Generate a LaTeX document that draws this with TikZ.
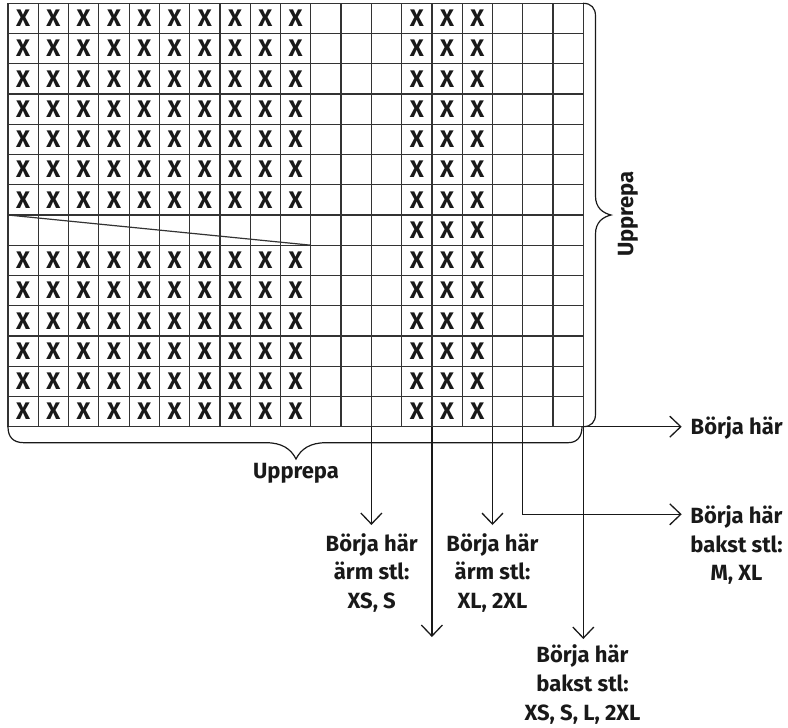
\documentclass[tikz,border=0pt]{standalone}
\usepackage{fontspec}
\setmainfont{Fira Sans}
\usetikzlibrary{arrows.meta}
\begin{document}
\begin{tikzpicture}[x=1pt,y=-1pt,
  gridline/.style={line width=1.2pt, black!80},
  bracestyle/.style={line width=1.2pt, black!90, line cap=round},
  conn/.style={line width=1.3pt, black!90, -{Straight Barb[length=11pt,width=21pt]}},
  xmark/.style={font=\bfseries\fontsize{24}{24}\selectfont, inner sep=0pt, text=black!90},
  lbl/.style={font=\bfseries\fontsize{22}{28.7}\selectfont, inner sep=0pt, align=center, text=black!90}]
\useasboundingbox (0,0) rectangle (788,728);
% grid lines
\foreach \r in {0,...,14} {
  \draw[gridline] (8,{3.3+30.24*\r}) -- (583.3,{3.3+30.24*\r});
}
\foreach \c in {0,...,19} {
  \draw[gridline] ({8+30.28*\c},3.3) -- ({8+30.28*\c},426.7);
}
% diagonal in row 8
\draw[gridline] (8,215.0) -- (310.8,245.2);
% X marks
\foreach \r in {0,...,13} {
  \foreach \c in {0,...,9} {
    \ifnum\r=7\relax\else
      \node[xmark] (x-\r-\c) at ({8+30.28*(\c+0.5)},{3.3+30.24*(\r+0.5)}) {X};
    \fi
  }
  \foreach \c in {13,14,15} {
    \node[xmark] (x-\r-\c) at ({8+30.28*(\c+0.5)},{3.3+30.24*(\r+0.5)}) {X};
  }
}
% right brace
\draw[bracestyle] (583.3,3.3) .. controls (591,3.3) and (595.5,8) .. (595.5,16)
  -- (595.5,196) .. controls (595.5,208) and (603,213) .. (611,215)
  .. controls (603,217) and (595.5,222) .. (595.5,234)
  -- (595.5,414) .. controls (595.5,422) and (591,426.7) .. (583.3,426.7);
\node[lbl, rotate=90] (upR) at (628,214) {Upprepa};
% bottom brace
\draw[bracestyle] (8,426.7) .. controls (8,437) and (13,442.7) .. (24,442.7)
  -- (266,442.7) .. controls (282,442.7) and (291,449) .. (296,459)
  .. controls (301,449) and (310,442.7) .. (326,442.7)
  -- (568,442.7) .. controls (577,442.7) and (582,437) .. (582,426.7);
\node[lbl, anchor=base] (upB) at (296,478.3) {Upprepa};
% connector start and end points
\coordinate (g1) at (371.4,426.7);
\coordinate (g2) at (431.9,426.7);
\coordinate (g3) at (492.5,426.7);
\coordinate (g4) at (522.8,426.7);
\coordinate (g5) at (583.3,426.7);
\coordinate (t1) at (371.4,525);
\coordinate (t2) at (431.9,637);
\coordinate (t3) at (492.5,525);
\coordinate (t4) at (681.7,514.3);
\coordinate (t5) at (583.3,639);
\coordinate (t6) at (681.7,426.7);
\draw[conn] (g1) -- (t1);
\draw[conn] (g2) -- (t2);
\draw[conn] (g3) -- (t3);
\draw[conn] (g4) |- (t4);
\draw[conn] (g5) -- (t5);
\draw[conn] (g5) -- (t6);
% labels (base anchor = baseline of the last line)
\node[lbl, anchor=base] (L1) at (371.7,608.4) {Börja här\\ärm stl:\\XS, S};
\node[lbl, anchor=base] (L3) at (492.5,608.4) {Börja här\\ärm stl:\\XL, 2XL};
\node[lbl, anchor=base] (L5) at (582.5,720.2) {Börja här\\bakst stl:\\XS, S, L, 2XL};
\node[lbl, anchor=base] (L4) at (736.5,580.9) {Börja här\\bakst stl:\\M, XL};
\node[lbl, anchor=base west] (L6) at (690.5,434) {Börja här};
\end{tikzpicture}
\end{document}
